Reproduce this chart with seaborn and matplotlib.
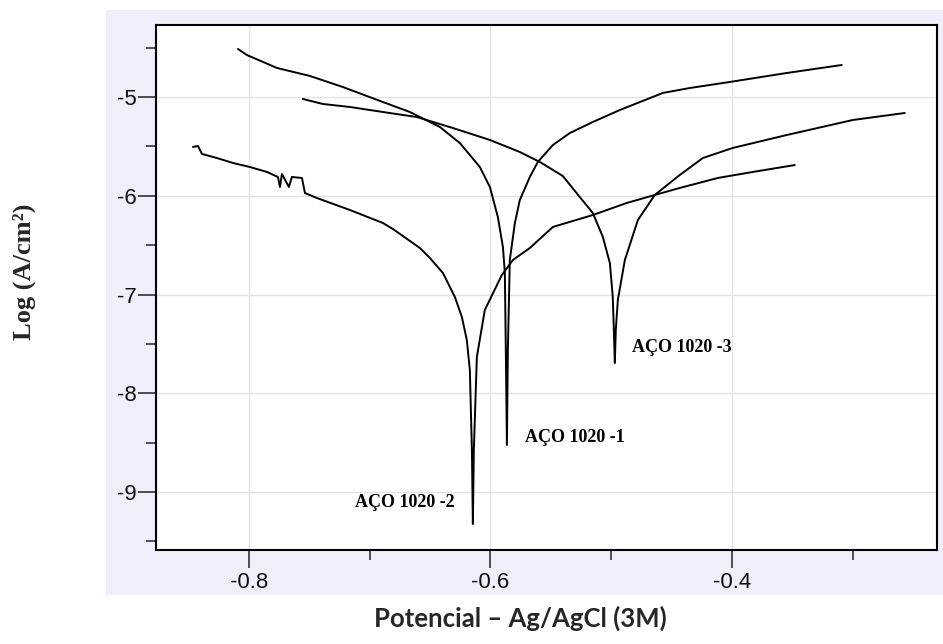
import numpy as np
import pandas as pd
import matplotlib
matplotlib.use("Agg")
import matplotlib.pyplot as plt
from matplotlib.ticker import MultipleLocator
import seaborn as sns

# ---- data (potential V vs Ag/AgCl, log current density) ----
e_aco1 = [-0.8091, -0.8017, -0.7768, -0.7495, -0.7222, -0.6890, -0.6667, -0.6501, -0.6418,
          -0.6253, -0.6087, -0.6004, -0.5938, -0.5896, -0.5880, -0.5872, -0.5863, -0.5855,
          -0.5839, -0.5797, -0.5756, -0.5673, -0.5607, -0.5482, -0.5342, -0.5151, -0.4928,
          -0.4571, -0.4348, -0.4017, -0.3545, -0.3089]
i_aco1 = [-4.514, -4.575, -4.706, -4.787, -4.899, -5.051, -5.152, -5.253, -5.304,
          -5.466, -5.709, -5.911, -6.215, -6.519, -6.782, -7.562, -8.524, -7.562,
          -6.651, -6.276, -6.043, -5.810, -5.658, -5.486, -5.365, -5.253, -5.132,
          -4.959, -4.909, -4.848, -4.757, -4.676]

e_aco2 = [-0.8464, -0.8422, -0.8389, -0.8265, -0.8133, -0.7992, -0.7851, -0.7760, -0.7743,
          -0.7727, -0.7669, -0.7644, -0.7561, -0.7536, -0.7437, -0.7164, -0.6890, -0.6807,
          -0.6584, -0.6501, -0.6393, -0.6294, -0.6236, -0.6195, -0.6170, -0.6153, -0.6145,
          -0.6137, -0.6112, -0.6046, -0.5905, -0.5814, -0.5673, -0.5482, -0.5151, -0.4870,
          -0.4638, -0.4431, -0.4116, -0.3826, -0.3478]
i_aco2 = [-5.506, -5.496, -5.577, -5.618, -5.668, -5.709, -5.759, -5.810, -5.911,
          -5.780, -5.911, -5.810, -5.820, -5.972, -6.023, -6.144, -6.276, -6.337,
          -6.529, -6.630, -6.782, -7.025, -7.228, -7.461, -7.765, -8.575, -9.324,
          -8.575, -7.633, -7.157, -6.803, -6.651, -6.529, -6.316, -6.195, -6.073,
          -5.992, -5.921, -5.820, -5.759, -5.689]

e_aco3 = [-0.7553, -0.7387, -0.7164, -0.6890, -0.6609, -0.6311, -0.6004, -0.5756, -0.5590,
          -0.5400, -0.5259, -0.5151, -0.5068, -0.5010, -0.4986, -0.4977, -0.4969, -0.4961,
          -0.4944, -0.4886, -0.4778, -0.4638, -0.4431, -0.4240, -0.3992, -0.3545, -0.2998,
          -0.2567]
i_aco3 = [-5.020, -5.071, -5.101, -5.152, -5.203, -5.314, -5.435, -5.557, -5.658,
          -5.800, -6.013, -6.175, -6.418, -6.681, -7.025, -7.359, -7.694, -7.359,
          -7.056, -6.651, -6.246, -5.992, -5.790, -5.618, -5.516, -5.385, -5.233,
          -5.162]

labels = ["AÇO 1020 -1", "AÇO 1020 -2", "AÇO 1020 -3"]
label_e = [-0.5714, -0.7122, -0.4828]
label_i = [-8.443, -9.111, -7.532]

x_ticks = [-0.8, -0.6, -0.4]
y_ticks = [-5, -6, -7, -8, -9]

frames = []
for name, e, i in zip(labels, [e_aco1, e_aco2, e_aco3], [i_aco1, i_aco2, i_aco3]):
    frames.append(pd.DataFrame({"E": e, "logi": i, "sample": name, "order": range(len(e))}))
df = pd.concat(frames, ignore_index=True)

sns.set_theme(style="whitegrid")
plt.rcParams["font.family"] = ["Liberation Sans", "DejaVu Sans"]

fig = plt.figure(figsize=(9.43, 6.44), dpi=100)
fig.patch.set_facecolor("white")

# lavender panel behind the plot
bg = fig.add_axes([106 / 943, 1 - 595 / 644, (943 - 106) / 943, (595 - 10) / 644], zorder=-5)
bg.set_facecolor("#EFEFFB")
bg.set_xticks([])
bg.set_yticks([])
for s in bg.spines.values():
    s.set_visible(False)

ax = fig.add_axes([156 / 943, 1 - 550 / 644, (937 - 156) / 943, (550 - 25) / 644], zorder=1)
ax.set_facecolor("white")

sns.lineplot(data=df, x="E", y="logi", units="sample", estimator=None, sort=False,
             color="black", linewidth=1.4, ax=ax, legend=False)

ax.set_xlim(-0.877, -0.230)
ax.set_ylim(-9.587, -4.271)
ax.set_xticks(x_ticks)
ax.set_xticklabels([f"{v:.1f}" for v in x_ticks])
ax.set_yticks(y_ticks)
ax.set_yticklabels([str(v) for v in y_ticks])
ax.xaxis.set_minor_locator(MultipleLocator(0.1))
ax.yaxis.set_minor_locator(MultipleLocator(0.5))

ax.grid(True, which="major", color="#E2E2E2", linewidth=1.0)
ax.grid(False, which="minor")
for s in ax.spines.values():
    s.set_color("black")
    s.set_linewidth(1.5)
ax.tick_params(which="major", direction="out", length=13, width=1.2, color="#333333",
               labelsize=16, labelcolor="#111111", left=True, bottom=True)
ax.tick_params(axis="x", which="major", pad=3)
ax.tick_params(axis="y", which="major", pad=1)
ax.tick_params(which="minor", direction="out", length=7, width=1.2, color="#333333",
               left=True, bottom=True)

ax.set_xlabel("")
ax.set_ylabel("")
fig.text(520 / 943, 1 - 618 / 644, "Potencial – Ag/AgCl (3M)", ha="center", va="center",
         fontsize=18.5, fontweight="bold", family=["Lato", "DejaVu Sans"])
fig.text(24 / 943, 1 - 272 / 644, "Log (A/cm²)", ha="center", va="center", rotation=90,
         fontsize=19, fontweight="bold", family=["Liberation Serif", "DejaVu Serif"])

for t, xe, yi in zip(labels, label_e, label_i):
    ax.text(xe, yi, t, ha="left", va="center", fontsize=13, fontweight="bold",
            family=["Liberation Serif", "DejaVu Serif"], color="black")

fig.savefig("out.png", dpi=100)
